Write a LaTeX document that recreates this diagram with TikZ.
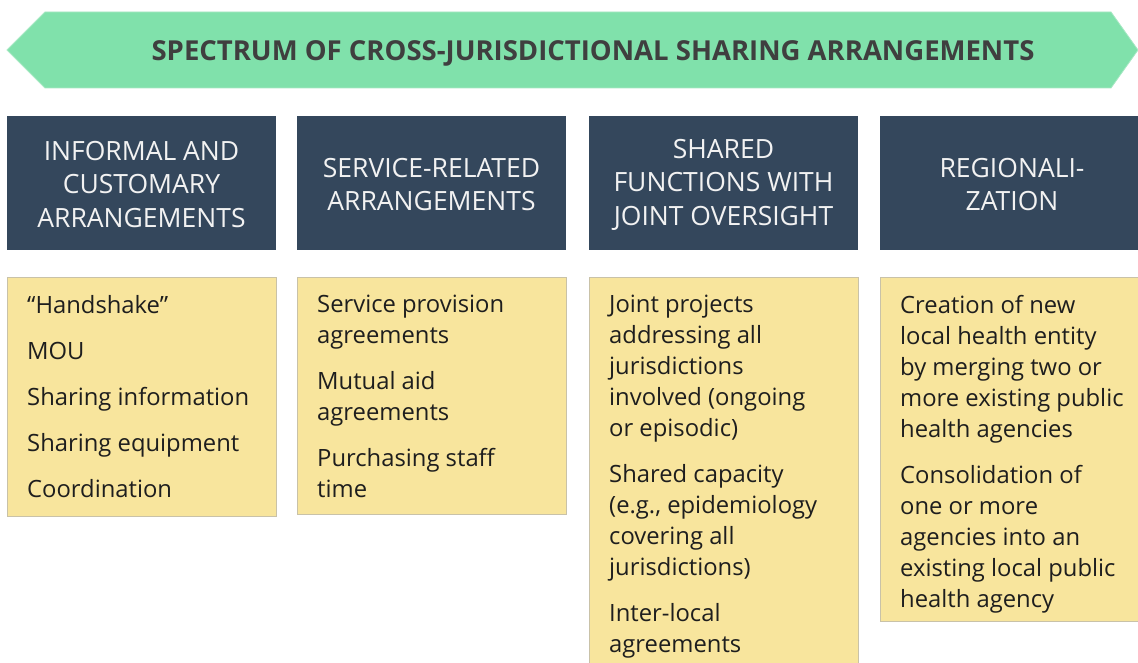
\documentclass[tikz,border=0pt]{standalone}
\usepackage{fontspec}
\setmainfont{Open Sans}
\definecolor{bannergreen}{HTML}{80E1AB}
\definecolor{bannerline}{HTML}{A8E8C4}
\definecolor{titlegray}{HTML}{3F3F3F}
\definecolor{headblue}{HTML}{34475C}
\definecolor{headtext}{HTML}{F2F2F2}
\definecolor{noteyellow}{HTML}{F8E59D}
\definecolor{noteline}{HTML}{C9C2A8}
\definecolor{bodytext}{HTML}{1E1E1E}
\newcommand{\headfnt}{\fontsize{26.5}{33.5}\selectfont\lineskiplimit=-100pt\relax}
\newcommand{\notefnt}{\fontsize{23.8}{31}\selectfont\lineskiplimit=-100pt\relax}
\begin{document}
\begin{tikzpicture}[x=1pt,y=-1pt,
  headbox/.style={fill=headblue},
  notebox/.style={fill=noteyellow,draw=noteline,line width=1pt},
  headlabel/.style={text=headtext,align=center,inner sep=0pt,font=\headfnt},
  notelabel/.style={anchor=north west,text=bodytext,align=left,inner sep=0pt,font=\notefnt},
  titlelabel/.style={text=titlegray,inner sep=0pt,
    font=\bfseries\fontsize{27.5}{32}\selectfont}]
\useasboundingbox (0,0) rectangle (1138,663);
% banner
\fill[bannergreen,draw=bannerline,line width=0.8pt] (7,50) -- (45,12) -- (1111,12) -- (1138,50) -- (1111,88) -- (45,88) -- cycle;
\node[titlelabel] (title) at (593,53) {SPECTRUM OF CROSS-JURISDICTIONAL SHARING ARRANGEMENTS};
% header boxes
\fill[headbox] (7,116) rectangle (276,250);
\fill[headbox] (297,116) rectangle (566,250);
\fill[headbox] (589,116) rectangle (858,250);
\fill[headbox] (880,116) rectangle (1138,250);
\node[headlabel] (h1) at (141.5,184.5) {INFORMAL AND\\CUSTOMARY\\ARRANGEMENTS};
\node[headlabel] (h2) at (431.5,184.5) {SERVICE-RELATED\\ARRANGEMENTS};
\node[headlabel] (h3) at (723.5,184.5) {SHARED\\FUNCTIONS WITH\\JOINT OVERSIGHT};
\node[headlabel] (h4) at (1012,184.5) {REGIONALI-\\ZATION};
% note boxes
\draw[notebox] (7,277) rectangle (276,516);
\draw[notebox] (297,277) rectangle (566,514);
\draw[notebox] (589,277) rectangle (858,670);
\draw[notebox] (880,277) rectangle (1145,621);
\node[notelabel] (n1) at (27,295) {“Handshake”\\[15pt]MOU\\[15pt]Sharing information\\[15pt]Sharing equipment\\[15pt]Coordination};
\node[notelabel] (n2) at (317,295) {Service provision\\agreements\\[15pt]Mutual aid\\agreements\\[15pt]Purchasing staff\\time};
\node[notelabel] (n3) at (609,295) {Joint projects\\addressing all\\jurisdictions\\involved (ongoing\\or episodic)\\[15pt]Shared capacity\\(e.g., epidemiology\\covering all\\jurisdictions)\\[15pt]Inter-local\\agreements};
\node[notelabel] (n4) at (900,295) {Creation of new\\local health entity\\by merging two or\\more existing public\\health agencies\\[15pt]Consolidation of\\one or more\\agencies into an\\existing local public\\health agency};
\end{tikzpicture}
\end{document}
